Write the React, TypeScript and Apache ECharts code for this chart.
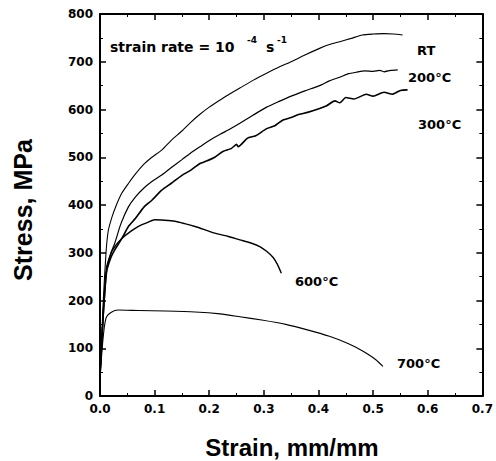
import React, { useEffect, useRef } from "react";
import * as echarts from "echarts";

// [strain (mm/mm), stress (MPa)]
const rtCurve: number[][] = [
  [0, 40], [0.006, 200], [0.011, 300], [0.015, 345], [0.022, 375], [0.03, 400], [0.04, 425],
  [0.052, 445], [0.065, 465], [0.08, 485], [0.095, 500], [0.113, 515], [0.13, 535],
  [0.15, 555], [0.165, 572], [0.183, 590], [0.2, 605], [0.22, 620], [0.238, 633], [0.256, 645],
  [0.28, 661], [0.305, 676], [0.328, 689], [0.35, 700], [0.375, 714], [0.402, 728],
  [0.42, 736], [0.439, 742], [0.46, 749], [0.48, 756], [0.5, 758], [0.52, 759], [0.537, 758], [0.554, 756],
];
const c200Curve: number[][] = [
  [0, 40], [0.006, 180], [0.012, 270], [0.02, 300], [0.027, 320], [0.038, 360], [0.052, 396],
  [0.065, 417], [0.08, 435], [0.095, 449], [0.113, 463], [0.13, 478], [0.15, 495], [0.165, 508],
  [0.183, 522], [0.2, 535], [0.22, 548], [0.238, 559], [0.256, 571], [0.28, 588], [0.305, 605],
  [0.328, 617], [0.35, 628], [0.375, 639], [0.402, 650], [0.42, 660], [0.44, 668], [0.455, 675],
  [0.469, 678], [0.485, 681], [0.5, 680], [0.512, 682], [0.52, 679], [0.532, 682], [0.545, 683],
];
const c300Curve: number[][] = [
  [0, 40], [0.006, 170], [0.012, 260], [0.02, 290], [0.027, 306], [0.04, 330],
  [0.052, 355], [0.065, 372], [0.08, 395], [0.095, 410], [0.113, 431], [0.13, 445],
  [0.15, 462], [0.165, 472], [0.183, 487], [0.195, 492], [0.21, 500], [0.225, 512],
  [0.24, 518], [0.25, 527], [0.253, 522], [0.27, 540], [0.285, 545], [0.305, 560],
  [0.32, 566], [0.335, 578], [0.35, 583], [0.365, 590], [0.38, 594], [0.402, 602],
  [0.415, 608], [0.43, 618], [0.439, 614], [0.45, 625], [0.465, 622], [0.4875, 632],
  [0.5, 628], [0.52, 636], [0.535, 632], [0.55, 640], [0.563, 641],
];
const c600Curve: number[][] = [
  [0, 40], [0.006, 170], [0.012, 262], [0.02, 298], [0.027, 313], [0.04, 330], [0.052, 341],
  [0.063, 350], [0.075, 358], [0.088, 364], [0.1, 369], [0.118, 368], [0.137, 366], [0.155, 361],
  [0.174, 355], [0.19, 349], [0.21, 341], [0.235, 334], [0.256, 327], [0.275, 321],
  [0.2925, 313], [0.305, 303], [0.317, 290], [0.325, 275], [0.332, 257],
];
const c700Curve: number[][] = [
  [0, 40], [0.004, 100], [0.008, 145], [0.012, 166], [0.02, 175], [0.033, 180],
  [0.07, 179], [0.12, 178], [0.174, 176], [0.22, 172], [0.256, 166], [0.296, 159],
  [0.34, 150], [0.378, 139], [0.42, 125], [0.454, 110], [0.475, 98], [0.49, 88], [0.505, 76], [0.518, 62],
];

const xMax = 0.7;
const yMax = 800;
const xTickStep = 0.1;
const yTickStep = 100;

const tickFont = "DejaVu Sans";
const titleFont = "Liberation Sans";

export default function App() {
  const ref = useRef<HTMLDivElement>(null);
  useEffect(() => {
    document.body.style.margin = "0";
    const chart = echarts.init(ref.current!, null, { renderer: "svg" });
    const axisCommon = (step: number, max: number) => ({
      type: "value",
      min: 0,
      max,
      interval: step,
      splitLine: { show: false },
      axisLine: { onZero: false, lineStyle: { color: "#000", width: 2 } },
      axisTick: { inside: true, length: 6, lineStyle: { color: "#000", width: 1.5 } },
      minorTick: { show: true, splitNumber: 2, length: 3, lineStyle: { color: "#000" } },
    });
    const mkSeries = (data: number[][], width: number) => ({
      type: "line",
      data,
      showSymbol: false,
      smooth: 0.2,
      lineStyle: { color: "#000", width },
    });
    const txt = (text: string, x: number, y: number, size: number, family = tickFont) => ({
      type: "text",
      x,
      y,
      style: {
        text,
        fill: "#000",
        fontFamily: family,
        fontWeight: "bold",
        fontSize: size,
        textAlign: "left",
        textVerticalAlign: "middle",
      },
    });
    chart.setOption({
      animation: false,
      grid: { left: 100, right: 13, top: 14, bottom: 65 },
      xAxis: [
        {
          ...axisCommon(xTickStep, xMax),
          position: "bottom",
          axisLabel: {
            color: "#000", fontFamily: tickFont, fontWeight: "bold", fontSize: 12, margin: 7,
            formatter: (v: number) => v.toFixed(1),
          },
        },
        { ...axisCommon(xTickStep, xMax), position: "top", axisLabel: { show: false } },
      ],
      yAxis: [
        {
          ...axisCommon(yTickStep, yMax),
          position: "left",
          axisLabel: { color: "#000", fontFamily: tickFont, fontWeight: "bold", fontSize: 12, margin: 7 },
        },
        { ...axisCommon(yTickStep, yMax), position: "right", axisLabel: { show: false } },
      ],
      series: [
        mkSeries(rtCurve, 1.1),
        mkSeries(c200Curve, 1.2),
        mkSeries(c300Curve, 1.6),
        mkSeries(c600Curve, 1.4),
        mkSeries(c700Curve, 1.1),
      ],
      graphic: [
        {
          type: "text",
          x: 23,
          y: 210,
          rotation: Math.PI / 2,
          style: {
            text: "Stress, MPa",
            fill: "#000",
            fontFamily: titleFont,
            fontWeight: "bold",
            fontSize: 25,
            textAlign: "center",
            textVerticalAlign: "middle",
          },
        },
        {
          type: "text",
          x: 292,
          y: 447,
          style: {
            text: "Strain, mm/mm",
            fill: "#000",
            fontFamily: titleFont,
            fontWeight: "bold",
            fontSize: 24,
            textAlign: "center",
            textVerticalAlign: "middle",
          },
        },
        txt("strain rate = 10", 110, 47, 14),
        txt("-4", 247, 40, 9),
        txt("s", 266, 47, 14),
        txt("-1", 277, 40, 9),
        txt("RT", 417, 50, 13),
        txt("200°C", 408, 77, 13),
        txt("300°C", 418, 124, 13),
        txt("600°C", 295, 281, 13),
        txt("700°C", 397, 363, 13),
      ],
    });
    return () => chart.dispose();
  }, []);
  return <div ref={ref} style={{ width: 496, height: 461 }} />;
}
